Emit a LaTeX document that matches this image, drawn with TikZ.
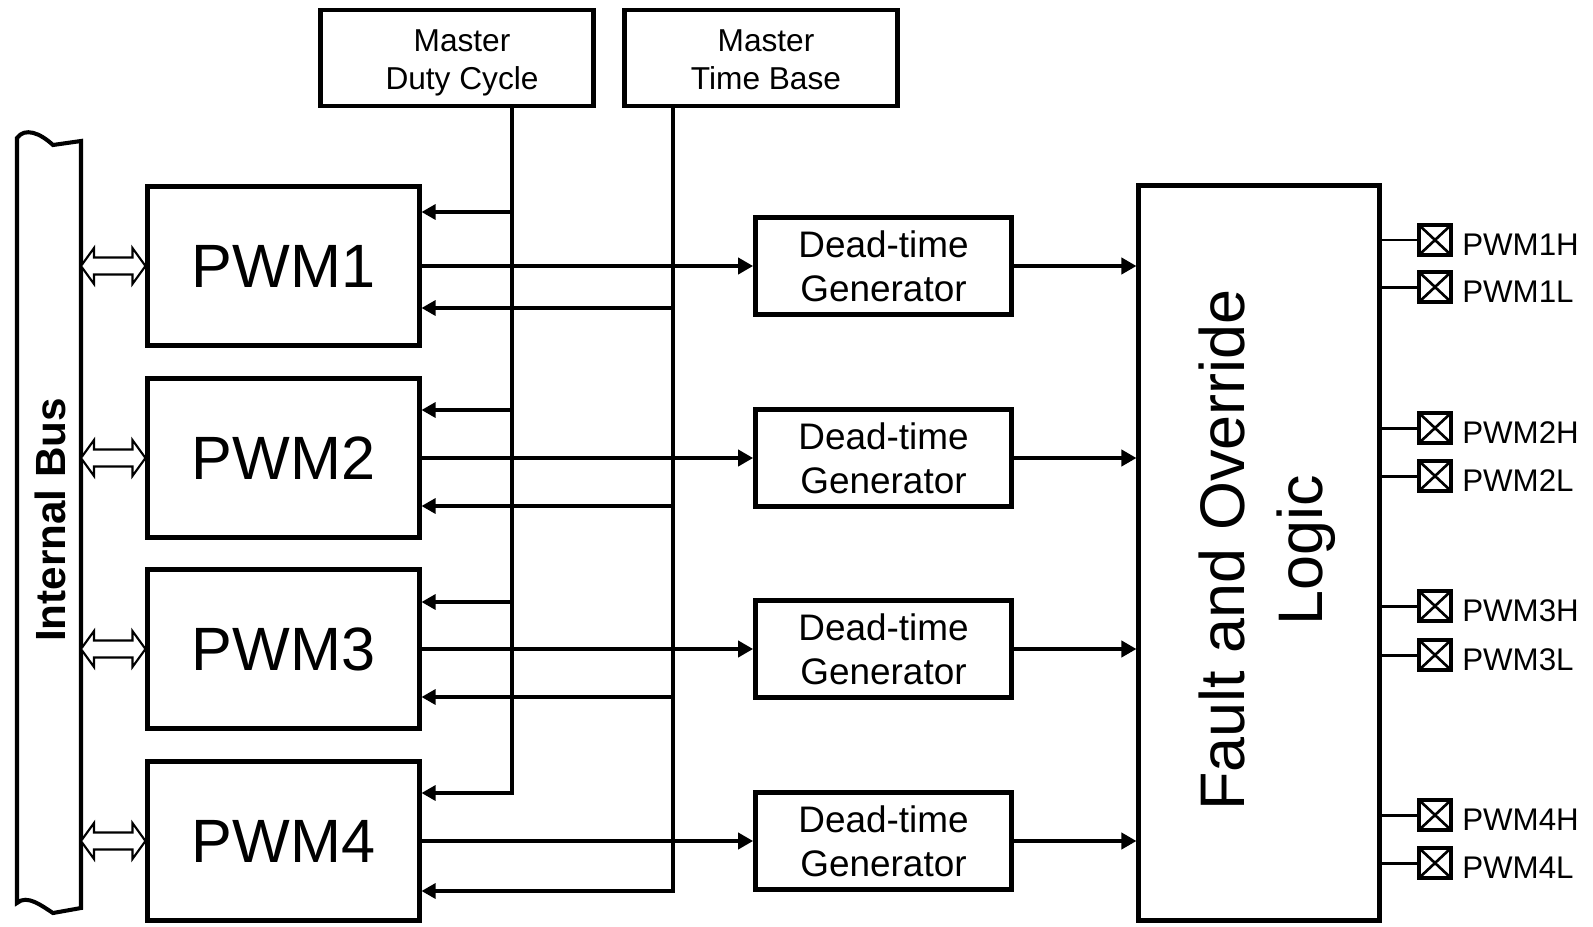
\documentclass[tikz,border=0pt]{standalone}
\usepackage{fontspec}
\setmainfont{Liberation Sans}
\usetikzlibrary{arrows.meta, positioning, calc}
\colorlet{colLinea}{black}
\tikzset{
  cajaBase/.style={
    draw=colLinea, line width=1.4pt, align=center, inner sep=0pt,
    fill=white, text=colLinea
  },
  cajaMaestra/.style={cajaBase, minimum width=2.73cm, minimum height=0.96cm},
  textoMaestro/.style={align=center, inner sep=0pt, font=\fontsize{9}{10.7}\selectfont},
  cajaPWM/.style={cajaBase, minimum width=2.71cm, minimum height=1.59cm,
    font=\fontsize{17.4}{20}\selectfont},
  cajaTiempo/.style={cajaBase, line width=1.3pt, minimum width=2.56cm,
    minimum height=0.97cm, font=\fontsize{10.5}{12.5}\selectfont},
  cajaFallo/.style={cajaBase, minimum width=2.4cm, minimum height=7.35cm},
  pinSalida/.style={draw=colLinea, line width=0.9pt, minimum width=0.32cm,
    minimum height=0.3cm, inner sep=0pt,
    path picture={\draw[line width=0.75pt]
      (path picture bounding box.north west) -- (path picture bounding box.south east)
      (path picture bounding box.south west) -- (path picture bounding box.north east);}},
  etiquetaPin/.style={font=\fontsize{8.9}{10}\selectfont, inner sep=0pt, anchor=west},
  etiquetaGrande/.style={rotate=90, align=center, inner sep=0pt},
  linea/.style={line width=1.15pt, colLinea},
  flecha/.style={-{Triangle[length=0.14cm, width=0.15cm]}, line width=0.9pt, colLinea},
  flechaGruesa/.style={-{Triangle[length=0.15cm, width=0.16cm]}, line width=1.15pt, colLinea},
  flechaBus/.style={draw=colLinea, fill=white, line width=0.6pt,
    to path={let \p1=(\tikztostart), \p2=(\tikztotarget) in
      (\x1,\y1) -- (\x1+0.13cm,\y1+0.18cm) -- (\x1+0.13cm,\y1+0.085cm)
      -- (\x2-0.13cm,\y1+0.085cm) -- (\x2-0.13cm,\y1+0.18cm) -- (\x2,\y1)
      -- (\x2-0.13cm,\y1-0.18cm) -- (\x2-0.13cm,\y1-0.085cm)
      -- (\x1+0.13cm,\y1-0.085cm) -- (\x1+0.13cm,\y1-0.18cm) -- cycle}},
}

\begin{document}
\begin{tikzpicture}[x=0.01cm, y=-0.01cm]
  \useasboundingbox (0,0) rectangle (1593,927);
  \draw[linea] (17,138) .. controls (25,127) and (40,133) .. (53,145) -- (81,141)
    -- (81,908) -- (53,913) .. controls (42,906) and (27,894) .. (17,903) -- cycle;
  \coordinate (busDer) at (81,0);
  \node[etiquetaGrande, font=\bfseries\fontsize{12}{14}\selectfont] (textoBus) at (50,520) {Internal Bus};

  \node[cajaMaestra] (ciclo) at (457,58) {};
  \node[cajaMaestra] (base) at (761,58) {};
  \node[textoMaestro] (cicloTexto) at ([xshift=0.05cm, yshift=-0.05cm]ciclo.center) {Master\\Duty Cycle};
  \node[textoMaestro] (baseTexto) at ([xshift=0.05cm, yshift=-0.05cm]base.center) {Master\\Time Base\vphantom{y}};
  \coordinate (cicloSal) at ([xshift=0.55cm]ciclo.south);
  \coordinate (baseSal) at ([xshift=-0.88cm]base.south);
  \coordinate (cicloFin) at (0,793);
  \coordinate (baseFin) at (0,891);
  \draw[linea, line cap=rect] (cicloSal) -- (cicloSal |- cicloFin);
  \draw[linea, line cap=rect] (baseSal) -- (baseSal |- baseFin);

  \node[cajaFallo] (fallo) at (1259,553) {};
  \node[etiquetaGrande, font=\fontsize{17.9}{22.2}\selectfont] (textoFallo) at (1267.5,550)
    {Fault and Override\\Logic};

  \foreach \k/\y/\ya/\yb in {1/266/212/308, 2/458/410/506, 3/649/602/697, 4/841/793/891}{
    \node[cajaPWM] (p\k) at (283.5,\y) {PWM\k};
    \node[cajaTiempo] (t\k) at (883.5,\y) {Dead-time\\Generator};
    \coordinate (fa\k) at (0,\ya);
    \coordinate (fb\k) at (0,\yb);
    \coordinate (bus\k) at (busDer |- p\k.west);
    \coordinate (ent\k) at (p\k.west);
    \draw[flechaGruesa] (p\k.east) -- (t\k.west);
    \draw[flechaGruesa] (t\k.east) -- (t\k.east -| fallo.west);
    \draw[flecha] (cicloSal |- fa\k) -- (p\k.east |- fa\k);
    \draw[flecha] (baseSal |- fb\k) -- (p\k.east |- fb\k);
    \draw[flechaBus] (bus\k) to (ent\k);
  }

  \foreach \e/\y in {PWM1H/240, PWM1L/287, PWM2H/428, PWM2L/476,
                     PWM3H/606, PWM3L/655, PWM4H/815, PWM4L/863}{
    \node[pinSalida] (pin\e) at (1435,\y) {};
    \draw[line width=0.85pt] (fallo.east |- pin\e) -- (pin\e.west);
    \node[etiquetaPin] (et\e) at ([xshift=0.09cm, yshift=-0.05cm]pin\e.east) {\e};
  }
\end{tikzpicture}
\end{document}
